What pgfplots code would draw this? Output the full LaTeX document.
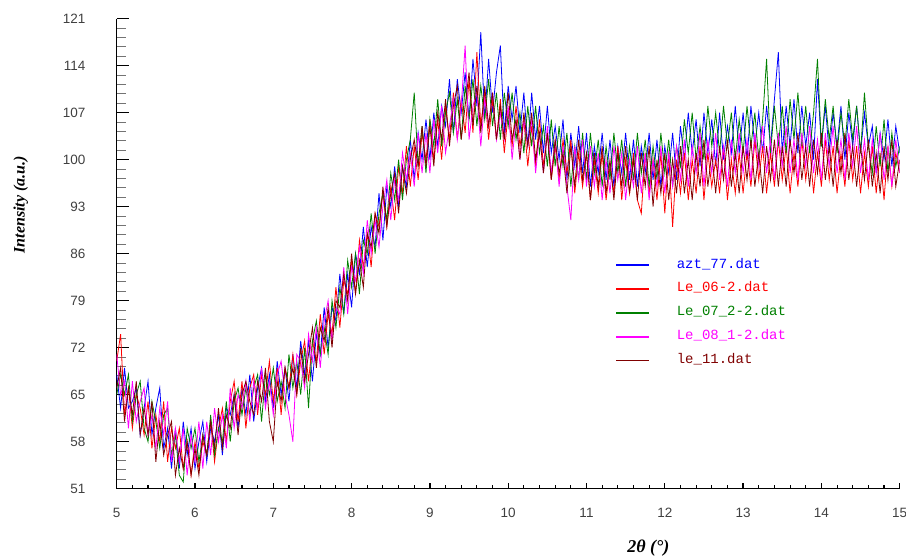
\documentclass[border=0pt]{standalone}
\usepackage{fontspec}
\setmainfont{Liberation Sans}
\newfontfamily\labelfont{Liberation Serif}
\newfontfamily\monofont{Liberation Mono}
\usepackage{pgfplots}
\usepackage{pgfplotstable}
\pgfplotsset{compat=1.18}

\definecolor{colB}{RGB}{0,0,255}
\definecolor{colR}{RGB}{255,0,0}
\definecolor{colG}{RGB}{0,128,0}
\definecolor{colM}{RGB}{255,0,255}
\definecolor{colK}{RGB}{128,0,0}

% 2theta, azt_77, Le_06-2, Le_07_2-2, Le_08_1-2, le_11
\pgfplotstableread{
x b r g m k
5.00 68 70 65 71 66
5.05 63 74 68 65 69
5.10 69 62 65 67 61
5.15 63 66 68 60 66
5.20 64 60 61 67 62
5.25 66 65 65 61 67
5.30 59 63 67 64 59
5.35 63 59 60 66 63
5.40 67 64 58 59 59
5.45 59 57 64 62 64
5.50 63 62 61 57 55
5.55 66 58 57 63 61
5.60 57 64 62 59 56
5.65 60 55 63 64 59
5.70 54 60 56 55 61
5.75 60 57 59 60 53
5.80 54 60 53 55 57
5.85 61 54 52 60 54
5.90 56 58 60 53 58
5.95 60 53 57 59 53
6.00 54 58 60 55 57
6.05 58 54 55 61 53
6.10 61 58 59 54 59
6.15 55 56 56 61 56
6.20 60 61 62 56 61
6.25 58 55 56 63 57
6.30 62 60 60 58 63
6.35 56 63 58 62 57
6.40 63 58 64 57 62
6.45 62 64 58 66 60
6.50 65 67 64 60 65
6.55 60 61 66 65 59
6.60 66 67 62 63 65
6.65 62 60 66 67 67
6.70 68 66 62 61 64
6.75 61 68 66 67 62
6.80 66 62 68 63 67
6.85 69 68 61 69 64
6.90 64 65 68 63 69
6.95 68 70 65 67 61
7.00 63 64 69 62 58
7.05 70 69 64 68 67
7.10 65 62 67 70 64
7.15 69 69 63 65 69
7.20 64 66 71 62 66
7.25 71 71 66 58 69
7.30 66 65 70 71 65
7.35 73 70 65 70 72
7.40 68 73 72 66 67
7.45 73 67 63 74 71
7.50 67 73 73 70 75
7.55 74 70 76 75 69
7.60 71 77 71 69 75
7.65 78 71 75 76 73
7.70 72 77 71 79 78
7.75 78 74 79 73 72
7.80 76 81 75 78 79
7.85 83 75 81 77 78
7.90 77 82 77 84 83
7.95 83 80 85 77 79
8.00 78 85 81 84 86
8.05 86 80 86 82 80
8.10 83 88 80 87 85
8.15 90 84 88 83 81
8.20 84 89 86 91 89
8.25 90 84 92 86 87
8.30 87 92 86 91 92
8.35 95 90 92 87 89
8.40 88 95 95 93 96
8.45 96 90 91 97 90
8.50 93 96 98 91 95
8.55 99 91 94 97 98
8.60 93 99 100 94 92
8.65 99 95 94 101 99
8.70 96 102 100 97 95
8.75 103 96 103 101 100
8.80 97 102 110 96 103
8.85 104 97 99 104 99
8.90 100 104 105 98 105
8.95 106 100 98 104 99
9.00 100 106 106 98 105
9.05 107 100 102 106 99
9.10 102 106 109 101 107
9.15 108 100 102 108 103
9.20 105 108 107 101 109
9.25 112 103 110 105 102
9.30 104 110 104 109 108
9.35 112 103 109 103 111
9.40 107 109 103 108 103
9.45 113 104 111 117 108
9.50 106 112 106 103 113
9.55 115 104 112 108 105
9.60 108 116 105 110 111
9.65 119 105 111 102 104
9.70 106 110 106 109 111
9.75 115 103 112 105 105
9.80 107 109 105 110 110
9.85 113 103 110 103 103
9.90 117 109 103 107 108
9.95 104 101 110 103 103
10.00 111 107 105 108 110
10.05 106 102 110 100 103
10.10 111 108 103 106 106
10.15 104 102 107 100 100
10.20 110 106 101 106 107
10.25 102 99 108 102 102
10.30 110 105 102 106 107
10.35 103 99 108 98 100
10.40 108 106 101 104 104
10.45 101 99 105 98 98
10.50 108 104 99 105 104
10.55 101 97 106 98 97
10.60 105 102 99 103 103
10.65 100 97 105 96 98
10.70 106 103 99 102 101
10.75 97 98 104 96 95
10.80 104 103 96 91 102
10.85 99 95 102 102 96
10.90 105 101 97 97 103
10.95 98 96 104 103 97
11.00 104 101 97 96 101
11.05 96 94 104 102 94
11.10 102 100 98 96 101
11.15 98 95 103 101 96
11.20 104 101 96 94 102
11.25 97 94 102 100 95
11.30 103 99 97 95 100
11.35 96 95 104 102 94
11.40 102 102 98 97 101
11.45 98 94 103 101 96
11.50 104 100 96 94 102
11.55 97 95 102 100 95
11.60 103 101 97 96 100
11.65 96 94 104 102 94
11.70 102 92 98 95 101
11.75 98 101 103 101 96
11.80 104 95 96 94 102
11.85 97 100 102 100 93
11.90 103 94 97 96 100
11.95 96 101 104 102 95
12.00 102 92 98 95 101
12.05 98 101 103 101 94
12.10 104 90 96 96 100
12.15 97 100 102 102 95
12.20 105 95 99 97 102
12.25 100 101 106 103 95
12.30 107 94 101 96 100
12.35 101 100 107 102 94
12.40 106 95 100 98 101
12.45 99 102 105 104 96
12.50 107 94 100 96 103
12.55 101 101 108 103 96
12.60 106 96 102 98 101
12.65 99 100 107 104 95
12.70 107 95 101 97 102
12.75 100 102 108 102 97
12.80 105 94 102 96 103
12.85 101 100 107 103 96
12.90 108 95 100 98 101
12.95 101 101 106 104 95
13.00 107 95 101 98 102
13.05 100 101 108 103 97
13.10 108 96 102 97 103
13.15 102 103 107 104 96
13.20 107 97 100 99 101
13.25 101 102 106 105 95
13.30 108 95 115 98 102
13.35 102 101 101 103 97
13.40 109 96 108 97 103
13.45 116 103 102 104 96
13.50 101 97 108 99 102
13.55 108 102 101 105 96
13.60 102 95 109 98 103
13.65 109 101 103 103 98
13.70 101 96 110 97 104
13.75 108 103 102 104 97
13.80 102 97 108 99 102
13.85 107 102 101 105 96
13.90 100 95 107 98 103
13.95 112 101 115 103 98
14.00 102 96 102 97 104
14.05 108 103 109 104 97
14.10 101 97 103 99 102
14.15 107 102 108 105 96
14.20 102 95 101 98 103
14.25 108 101 107 103 98
14.30 100 96 102 97 104
14.35 107 103 109 104 97
14.40 102 97 103 99 102
14.45 108 102 108 105 96
14.50 101 95 101 98 102
14.55 107 101 110 103 97
14.60 102 96 102 97 103
14.65 105 102 98 103 96
14.70 98 95 105 98 101
14.75 104 101 99 104 95
14.80 100 94 106 97 102
14.85 106 102 98 102 97
14.90 99 96 104 96 103
14.95 105 101 99 103 96
15.00 101 98 102 98 100
}\xrd

\pgfplotsset{
  xrdframe/.style={
    scale only axis, width=783pt, height=470pt,
    xmin=5, xmax=15, ymin=51, ymax=121,
    axis line style={line width=1.6pt, black},
    tick align=inside,
    major tick style={line width=1.3pt, black},
    /pgf/number format/assume math mode=true,
    tick label style={font=\fontsize{13.5}{16}\selectfont, text=black!75, inner sep=0pt},
  },
}

\begin{document}
\begin{tikzpicture}
\path[use as bounding box] (-116.7pt,-67.3pt) rectangle (789.3pt,488.7pt);
% y axis, data and legend
\begin{axis}[
  xrdframe,
  xtick=\empty, ytick={51,58,...,121},
  minor y tick num=4,
  axis x line*=bottom, axis y line*=left,
  major tick length=12pt, minor tick length=9pt,
  minor tick style={line width=1.1pt, black!55},
  yticklabel style={xshift=-31pt},
  ylabel={\labelfont\bfseries\itshape Intensity (a.u.)},
  ylabel style={at={(axis description cs:-0.1226,0.604)}, anchor=center, font=\fontsize{16}{18}\selectfont},
  legend style={at={(0.637,0.489)}, anchor=north west, draw=none, fill=none,
    font=\monofont\fontsize{14}{16}\selectfont, row sep=11.9pt, inner sep=0pt,
    nodes={inner sep=0pt, text height=9pt, text depth=3pt}},
  legend cell align=left,
  legend image code/.code={\draw[#1, line width=1.5pt] (0pt,0pt) -- (33pt,0pt); \path (60pt,0pt);},
]
\addplot[colB, line width=0.8pt] table[x=x, y=b] {\xrd};
\addlegendentry{\textcolor{colB}{azt\_77.dat}}
\addplot[colR, line width=0.8pt] table[x=x, y=r] {\xrd};
\addlegendentry{\textcolor{colR}{Le\_06-2.dat}}
\addplot[colG, line width=0.8pt] table[x=x, y=g] {\xrd};
\addlegendentry{\textcolor{colG}{Le\_07\_2-2.dat}}
\addplot[colM, line width=0.8pt] table[x=x, y=m] {\xrd};
\addlegendentry{\textcolor{colM}{Le\_08\_1-2.dat}}
\addplot[colK, line width=0.8pt] table[x=x, y=k] {\xrd};
\addlegendentry{\textcolor{colK}{le\_11.dat}}
\end{axis}
% x axis with its shorter ticks
\begin{axis}[
  xrdframe,
  xtick={5,6,...,15}, ytick=\empty,
  minor x tick num=4,
  axis x line*=bottom, axis y line=none,
  major tick length=6pt, minor tick length=4pt,
  minor tick style={line width=1.1pt, black},
  xticklabel style={yshift=-19pt},
  xlabel={\labelfont\bfseries\itshape 2θ~(°)},
  xlabel style={at={(axis description cs:0.679,-0.126)}, anchor=center, font=\fontsize{18}{20}\selectfont},
]
\end{axis}
\end{tikzpicture}
\end{document}
